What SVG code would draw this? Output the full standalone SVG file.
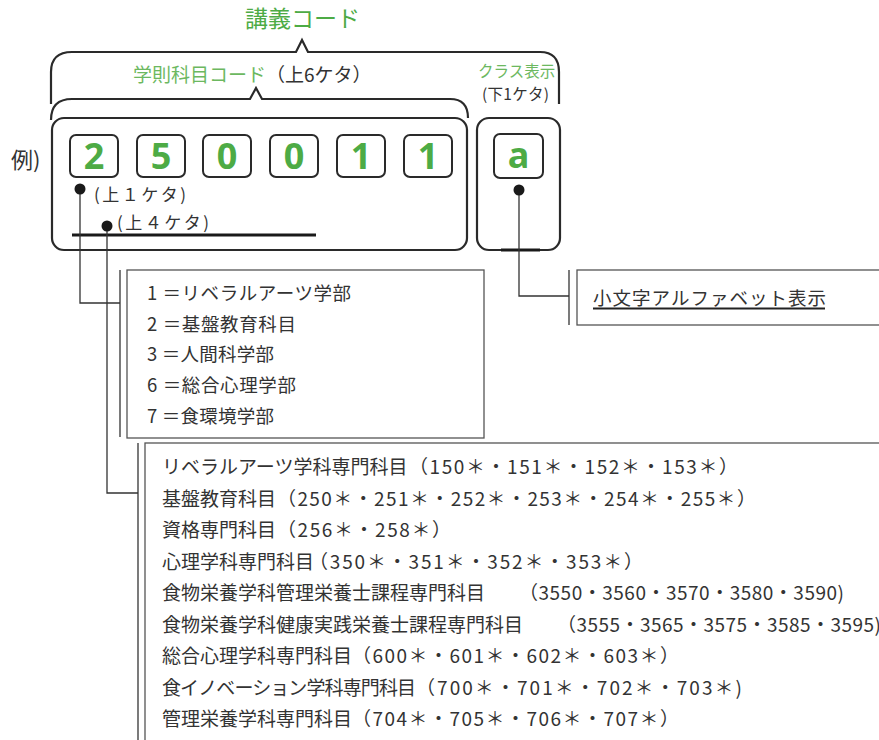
<svg xmlns="http://www.w3.org/2000/svg" width="879" height="740" viewBox="0 0 879 740">
<style>
text{font-family:"Noto Sans CJK JP","Noto Sans",sans-serif;fill:#333}
.g{fill:#4dab45}
.lg{fill:#6cb860}
.t{font-size:18.5px}
.s{font-size:19px}
.dg{font-family:"Noto Sans","Open Sans",sans-serif;font-weight:bold;font-size:36px;fill:#4dab45;text-anchor:middle}
.brace{fill:none;stroke:#2a2a2a;stroke-width:2.2;stroke-linejoin:miter}
.box{fill:#fff;stroke:#2a2a2a;stroke-width:2.2}
.db{fill:#fff;stroke:#2a2a2a;stroke-width:2}
.ib{fill:#fff;stroke:#555;stroke-width:1.3}
.ln{fill:none;stroke:#333;stroke-width:1.3}
.thick{stroke:#1a1a1a;stroke-width:3}
.dot{fill:#1a1a1a}
</style>
<g id="title">
<text x="245" y="27" class="g" font-size="23">講義コード</text>
</g>
<g id="braces">
<path class="brace" d="M51,104 V72 Q51,52 72,52 H296 L302,40 L308,52 H540 Q559,52 559,72 V104"/>
<path class="brace" d="M51,120 Q51,99 72,99 H250 L256,88 L262,99 H450 Q468,99 468,118"/>
</g>
<g id="labels">
<text x="133" y="82" class="lg" font-size="19">学則科目コード<tspan fill="#333">（上6ケタ）</tspan></text>
<text x="478" y="77" class="lg" font-size="15.5">クラス表示</text>
<text x="482" y="100" font-size="15.5" textLength="67" lengthAdjust="spacing">(下1ケタ)</text>
<text x="11" y="168" font-size="22">例)</text>
</g>
<g id="main-box">
<rect class="box" x="52" y="118" width="415" height="132" rx="12"/>
</g>
<g id="class-box">
<rect class="box" x="477" y="118" width="83" height="132" rx="12"/>
<line class="thick" x1="501" y1="250" x2="540" y2="250"/>
</g>
<g id="digits">
<g id="d1"><rect class="db" x="70" y="135" width="48" height="42" rx="6"/><text class="dg" x="94" y="169">2</text></g>
<g id="d2"><rect class="db" x="137" y="135" width="48" height="42" rx="6"/><text class="dg" x="161" y="169">5</text></g>
<g id="d3"><rect class="db" x="203" y="135" width="48" height="42" rx="6"/><text class="dg" x="227" y="169">0</text></g>
<g id="d4"><rect class="db" x="270" y="135" width="48" height="42" rx="6"/><text class="dg" x="294" y="169">0</text></g>
<g id="d5"><rect class="db" x="337" y="135" width="48" height="42" rx="6"/><text class="dg" x="361" y="169">1</text></g>
<g id="d6"><rect class="db" x="404" y="135" width="48" height="42" rx="6"/><text class="dg" x="428" y="169">1</text></g>
<g id="d7"><rect class="db" x="494" y="134" width="49" height="44" rx="6"/><text class="dg" x="518.5" y="168" font-size="40">a</text></g>
</g>
<g id="connectors">
<line class="thick" x1="72" y1="235" x2="316" y2="235"/>
<polyline class="ln" points="80,189 80,303 120,303"/>
<polyline class="ln" points="107,226 107,493 138,493"/>
<polyline class="ln" points="519,190 519,296 569,296"/>
<circle class="dot" cx="80" cy="189" r="5.5"/>
<circle class="dot" cx="107" cy="226" r="5.5"/>
<circle class="dot" cx="519" cy="190" r="5.5"/>
</g>
<g id="digit-notes">
<text x="94" y="201" font-size="17" textLength="92" lengthAdjust="spacing">(上１ケタ)</text>
<text x="117" y="229" font-size="17" textLength="92" lengthAdjust="spacing">(上４ケタ)</text>
</g>
<g id="faculty-box">
<line class="ln" x1="120" y1="270" x2="120" y2="437"/>
<rect class="ib" x="127" y="270" width="357" height="168"/>
<text class="t" x="147" y="300" textLength="204" lengthAdjust="spacing">1 ＝リベラルアーツ学部</text>
<text class="t" x="147" y="331" textLength="149" lengthAdjust="spacing">2 ＝基盤教育科目</text>
<text class="t" x="147" y="361" textLength="127" lengthAdjust="spacing">3 ＝人間科学部</text>
<text class="t" x="147" y="392" textLength="149" lengthAdjust="spacing">6 ＝総合心理学部</text>
<text class="t" x="147" y="423" textLength="127" lengthAdjust="spacing">7 ＝食環境学部</text>
</g>
<g id="subject-box">
<line class="ln" x1="138" y1="443" x2="138" y2="740"/>
<rect class="ib" x="145" y="443" width="760" height="320"/>
<text class="s" x="162" y="474">リベラルアーツ学科専門科目<tspan x="409" textLength="329" lengthAdjust="spacing">（150＊・151＊・152＊・153＊）</tspan></text>
<text class="s" x="162" y="506">基盤教育科目<tspan x="277" textLength="479" lengthAdjust="spacing">（250＊・251＊・252＊・253＊・254＊・255＊）</tspan></text>
<text class="s" x="162" y="537">資格専門科目<tspan x="277" textLength="174" lengthAdjust="spacing">（256＊・258＊）</tspan></text>
<text class="s" x="162" y="569">心理学科専門科目<tspan x="309" textLength="334" lengthAdjust="spacing">（350＊・351＊・352＊・353＊）</tspan></text>
<text class="s" x="162" y="600">食物栄養学科管理栄養士課程専門科目<tspan x="519" textLength="325" lengthAdjust="spacing">（3550・3560・3570・3580・3590)</tspan></text>
<text class="s" x="162" y="632">食物栄養学科健康実践栄養士課程専門科目<tspan x="557" textLength="324" lengthAdjust="spacing">（3555・3565・3575・3585・3595)</tspan></text>
<text class="s" x="162" y="663">総合心理学科専門科目<tspan x="352" textLength="327" lengthAdjust="spacing">（600＊・601＊・602＊・603＊）</tspan></text>
<text class="s" x="162" y="695" textLength="254" lengthAdjust="spacing">食イノベーション学科専門科目</text>
<text class="s" x="416" y="695" textLength="326" lengthAdjust="spacing">（700＊・701＊・702＊・703＊)</text>
<text class="s" x="162" y="726">管理栄養学科専門科目<tspan x="352" textLength="327" lengthAdjust="spacing">（704＊・705＊・706＊・707＊）</tspan></text>
</g>
<g id="class-note">
<line class="ln" x1="569" y1="270" x2="569" y2="325"/>
<rect class="ib" x="577" y="270" width="320" height="55"/>
<text class="t" x="593" y="305" font-size="19" textLength="233" lengthAdjust="spacing">小文字アルファベット表示</text>
<line x1="593" y1="308.5" x2="825" y2="308.5" stroke="#222" stroke-width="1.8"/>
</g>
</svg>
